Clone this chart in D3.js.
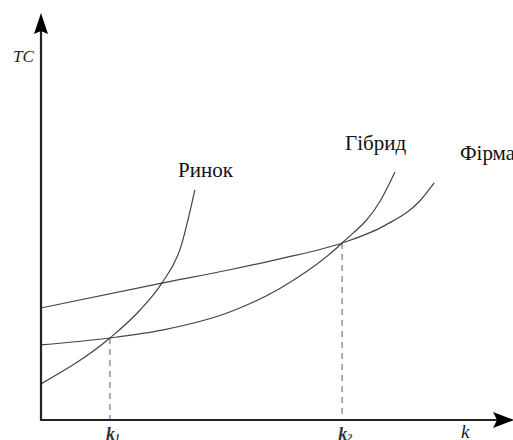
<!DOCTYPE html>
<html><head><meta charset="utf-8">
<script src="https://cdn.jsdelivr.net/npm/d3@7"></script>
<style>html,body{margin:0;padding:0;background:#fff;overflow:hidden}
#wrap{position:relative;width:513px;height:440px;overflow:hidden}
#chart{position:absolute;left:0;top:0}
.lbl{position:absolute;white-space:nowrap;line-height:normal;font-family:"Liberation Serif","Times New Roman",serif}
</style>
</head><body>
<div id="wrap"><svg id="chart" width="513" height="440"></svg></div>
<script>
// Data (abstract units: k on x, TC on y)
const marketK   = [0, 1.46, 2.10, 2.56, 2.95, 3.26];
const marketTC  = [0.89, 2.02, 2.71, 3.37, 4.22, 5.67];
const hybridK   = [0, 1.46, 2.59, 4.00, 5.06, 6.38, 7.18, 7.50];
const hybridTC  = [1.85, 2.02, 2.22, 2.66, 3.24, 4.36, 5.38, 6.11];
const firmK     = [0, 2.56, 4.00, 5.06, 6.38, 7.30, 8.03, 8.33];
const firmTC    = [2.76, 3.37, 3.70, 3.97, 4.36, 4.80, 5.40, 5.84];
const crossK    = [1.46, 6.38];
const crossTC   = [2.02, 4.36];
const crossLabels = ["1", "2"];
const curveNames = ["Ринок", "Гібрид", "Фірма"];

const svg = d3.select("#chart");
const wrap = d3.select("#wrap");
const x = d3.scaleLinear().domain([0, 10]).range([41, 513]);
const y = d3.scaleLinear().domain([0, 10]).range([420, 14]);

const line = d3.line().x(d => x(d[0])).y(d => y(d[1])).curve(d3.curveMonotoneX);
const series = [
  d3.zip(marketK, marketTC),
  d3.zip(hybridK, hybridTC),
  d3.zip(firmK, firmTC)
];

// dashed drop lines
crossK.forEach((k, i) => {
  svg.append("line")
    .attr("x1", x(k)).attr("x2", x(k))
    .attr("y1", y(crossTC[i])).attr("y2", y(0) - 1)
    .attr("stroke", "#999").attr("stroke-width", 1.6)
    .attr("stroke-dasharray", "6,5");
});

series.forEach(s => {
  svg.append("path").attr("d", line(s))
    .attr("fill", "none").attr("stroke", "#444").attr("stroke-width", 1.2);
});

// axes
svg.append("line").attr("x1", x(0)).attr("x2", x(0)).attr("y1", y(0)+1).attr("y2", 30)
  .attr("stroke", "#222").attr("stroke-width", 2.2);
svg.append("line").attr("x1", x(0)-1).attr("x2", 498).attr("y1", y(0)).attr("y2", y(0))
  .attr("stroke", "#222").attr("stroke-width", 2.2);
svg.append("path").attr("d", "M41,13 L48,34 L41,31 L34,34 Z").attr("fill", "#000");
svg.append("path").attr("d", "M514,420 L493,412 L497,420 L493,428 Z").attr("fill", "#000");

// HTML labels placed by baseline (Liberation Serif ascent ≈ 0.891em)
function label(px, baseline, size) {
  return wrap.append("div").attr("class", "lbl")
    .style("left", px + "px")
    .style("top", (baseline - 0.891 * size) + "px")
    .style("font-size", size + "px");
}

const lblPos = [[178, 177], [345, 150], [460, 160]];
curveNames.forEach((n, i) => {
  label(lblPos[i][0], lblPos[i][1], 21).style("color", "#111").text(n);
});

label(13, 62, 17).style("font-style", "italic").style("color", "#222").text("TC");

crossK.forEach((k, i) => {
  const d = label(x(k) - 4, 440, 18).style("font-style", "italic").style("font-weight", "bold").style("color", "#333");
  d.append("span").text("k");
  d.append("span").style("font-size", "10px").style("position", "relative").style("top", "1px").text(crossLabels[i]);
});
label(461, 438, 19).style("font-style", "italic").style("color", "#222").text("k");
</script>
</body></html>
